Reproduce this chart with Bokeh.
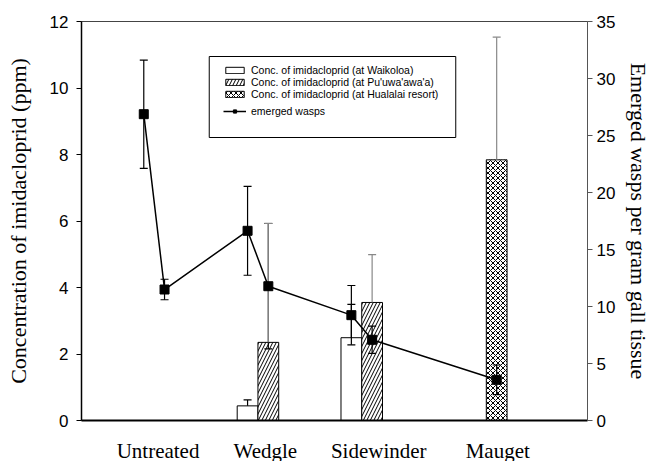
from bokeh.plotting import figure
from bokeh.layouts import column
from bokeh.models import (Range1d, LinearAxis, FixedTicker, Legend, LegendItem,
                          ColumnDataSource, BoxAnnotation)
from bokeh.core.properties import value
from bokeh.embed import file_html
from bokeh.resources import INLINE

categories = ["Untreated", "Wedgle", "Sidewinder", "Mauget"]
sites = ["Waikoloa", "Pu'uwa'awa'a", "Hualalai resort"]

# Concentration of imidacloprid (ppm): mean and upper error, per site
waik_cat = ["Wedgle", "Sidewinder"]
waik_conc = [0.44, 2.49]
waik_err = [0.18, 1.00]

puu_cat = ["Wedgle", "Sidewinder"]
puu_conc = [2.35, 3.55]
puu_err = [3.58, 1.44]

hual_cat = ["Mauget"]
hual_conc = [7.84]
hual_err = [3.69]

# Emerged wasps per gram gall tissue
wasp_cat = ["Untreated", "Untreated", "Wedgle", "Wedgle", "Sidewinder", "Sidewinder", "Mauget"]
wasp_site = ["Waikoloa", "Pu'uwa'awa'a", "Waikoloa", "Pu'uwa'awa'a", "Waikoloa", "Pu'uwa'awa'a", "Hualalai resort"]
wasp_mean = [26.87, 11.49, 16.64, 11.78, 9.24, 7.08, 3.57]
wasp_err = [4.75, 0.9, 3.9, 5.5, 2.6, 1.2, 1.3]

conc_ticks = [0, 2, 4, 6, 8, 10, 12]
wasp_ticks = [0, 5, 10, 15, 20, 25, 30, 35]

BW = 0.2
label_shift = [-0.0625, -0.029, 0.064, 0.21]
X0, X1 = 0.2, 5.075


def xpos(cat, site):
    return categories.index(cat) + 1 + (sites.index(site) - 1) * BW


SERIF = "Liberation Serif"
SANS = "Liberation Sans"

FL, FR, FT = 81, 66, 21
p = figure(width=654, height=430, output_backend="svg", toolbar_location=None,
           x_range=Range1d(X0, X1), y_range=Range1d(0, 12),
           min_border_left=FL, min_border_right=FR, min_border_top=FT, min_border_bottom=10)
p.extra_y_ranges = {"wasps": Range1d(0, 35)}
p.xgrid.visible = False
p.ygrid.visible = False
p.outline_line_color = "#444444"
p.background_fill_color = "white"
p.border_fill_color = "white"

# x axis: line only; category names are drawn in the strip below
xa = p.xaxis[0]
xa.ticker = FixedTicker(ticks=[])
xa.major_tick_out = 0
xa.major_tick_in = 0
xa.minor_tick_out = 0
xa.minor_tick_in = 0
xa.axis_line_color = "black"
xa.axis_line_width = 2
xa.major_label_text_font_size = "0px"
xa.major_label_standoff = 0

# left axis
ya = p.yaxis[0]
ya.ticker = FixedTicker(ticks=conc_ticks)
ya.major_tick_out = 5
ya.major_tick_in = 0
ya.minor_tick_out = 0
ya.minor_tick_in = 0
ya.axis_line_color = "black"
ya.axis_line_width = 1.5
ya.major_label_text_font = SANS
ya.major_label_text_font_size = "17px"
ya.major_label_text_color = "black"
ya.major_label_standoff = 8
ya.axis_label = "Concentration of imidacloprid (ppm)"
ya.axis_label_text_font = SERIF
ya.axis_label_text_font_size = "22px"
ya.axis_label_text_font_style = "normal"
ya.axis_label_text_color = "black"
ya.axis_label_standoff = 16

# right axis
ra = LinearAxis(y_range_name="wasps", ticker=FixedTicker(ticks=wasp_ticks))
ra.major_tick_out = 5
ra.major_tick_in = 0
ra.minor_tick_out = 0
ra.minor_tick_in = 0
ra.axis_line_color = "#555555"
ra.major_tick_line_color = "#555555"
ra.major_label_text_font = SANS
ra.major_label_text_font_size = "17px"
ra.major_label_text_color = "black"
ra.major_label_standoff = 4
ra.axis_label = "Emerged wasps per gram gall tissue"
ra.axis_label_text_font = SERIF
ra.axis_label_text_font_size = "22px"
ra.axis_label_text_font_style = "normal"
ra.axis_label_text_color = "black"
ra.axis_label_standoff = 8
p.add_layout(ra, "right")

# bars
groups = [
    (waik_cat, waik_conc, waik_err, "Waikoloa", None, "black"),
    (puu_cat, puu_conc, puu_err, "Pu'uwa'awa'a", "/", "#888888"),
    (hual_cat, hual_conc, hual_err, "Hualalai resort", "x", "#888888"),
]
bar_renderers = []
bar_err = []
for cats, vals, errs, site, hatch, ecol in groups:
    xs = [xpos(c, site) for c in cats]
    src = ColumnDataSource(dict(x=xs, top=vals, up=[v + e for v, e in zip(vals, errs)]))
    kw = {}
    if hatch:
        kw = dict(hatch_pattern=hatch, hatch_color="black",
                  hatch_scale=7 if hatch == "/" else 5, hatch_weight=1)
    r = p.vbar(x="x", top="top", bottom=0, width=BW, source=src,
               fill_color="white", line_color="black", line_width=1, **kw)
    bar_renderers.append(r)
    bar_err.append((src, ecol))

# wasp error bars
wx = [xpos(c, s) for c, s in zip(wasp_cat, wasp_site)]
wsrc = ColumnDataSource(dict(x=wx, y=wasp_mean,
                             lo=[m - e for m, e in zip(wasp_mean, wasp_err)],
                             hi=[m + e for m, e in zip(wasp_mean, wasp_err)]))
p.segment(x0="x", x1="x", y0="lo", y1="hi", source=wsrc, line_color="black",
          line_width=1.2, y_range_name="wasps")
p.scatter(x="x", y="lo", source=wsrc, marker="dash", size=8, line_color="black",
          line_width=1.2, y_range_name="wasps")
p.scatter(x="x", y="hi", source=wsrc, marker="dash", size=8, line_color="black",
          line_width=1.2, y_range_name="wasps")

# bar error bars (upper only)
for src, ecol in bar_err:
    p.segment(x0="x", x1="x", y0="top", y1="up", source=src, line_color=ecol, line_width=1.2)
    p.scatter(x="x", y="up", source=src, marker="dash", size=8, line_color=ecol, line_width=1.2)

# wasp line
wl = p.line(x="x", y="y", source=wsrc, line_color="black", line_width=1.5, y_range_name="wasps")
wm = p.scatter(x="x", y="y", source=wsrc, marker="square", size=9, fill_color="black",
               line_color="black", y_range_name="wasps")

# legend box (pixel layout converted to the plot's data space)
frame_w = 654 - FL - FR
frame_h = 430 - FT - 10
def px_x(px):
    return X0 + (px - FL) * (X1 - X0) / frame_w
def px_y(py):
    return (FT + frame_h - py) * 12 / frame_h

p.add_layout(BoxAnnotation(left=px_x(209), right=px_x(456), top=px_y(56), bottom=px_y(137),
                           fill_color="white", fill_alpha=1, line_color="black",
                           line_width=1, line_alpha=1))


def make_legend(items, loc):
    lg = Legend(items=items, location=loc)
    lg.margin = 0
    lg.padding = 0
    lg.spacing = 0
    lg.glyph_width = 23
    lg.glyph_height = 8
    lg.label_height = 10
    lg.label_standoff = 5
    lg.label_text_font = SANS
    lg.label_text_font_size = "10.5px"
    lg.label_text_color = "black"
    lg.border_line_color = None
    lg.background_fill_alpha = 0
    return lg


leg_a = make_legend([
    LegendItem(label="Conc. of imidacloprid (at Waikoloa)", renderers=[bar_renderers[0]]),
    LegendItem(label="Conc. of imidacloprid (at Pu'uwa'awa'a)", renderers=[bar_renderers[1]]),
    LegendItem(label="Conc. of imidacloprid (at Hualalai resort)", renderers=[bar_renderers[2]]),
], (142, 320))
leg_b = make_legend([LegendItem(label="emerged wasps", renderers=[wl, wm])], (142, 303))
p.add_layout(leg_a, "center")
p.add_layout(leg_b, "center")

# strip with the category names under the axis
q = figure(width=654, height=31, output_backend="svg", toolbar_location=None,
           x_range=p.x_range, y_range=Range1d(0, 31),
           x_axis_location=None, y_axis_location=None,
           min_border_left=FL, min_border_right=FR, min_border_top=0, min_border_bottom=0)
q.xgrid.visible = False
q.ygrid.visible = False
q.outline_line_color = None
q.background_fill_color = "white"
q.border_fill_color = "white"
lab_src = ColumnDataSource(dict(x=[i + 1 + s for i, s in enumerate(label_shift)],
                                y=[11] * len(categories), text=categories))
q.text(x="x", y="y", text="text", source=lab_src, text_align="center",
       text_baseline="alphabetic", text_font=value(SERIF), text_font_size="21px",
       text_color="black")

open("out.html", "w").write(file_html(column(p, q, spacing=0), INLINE))
